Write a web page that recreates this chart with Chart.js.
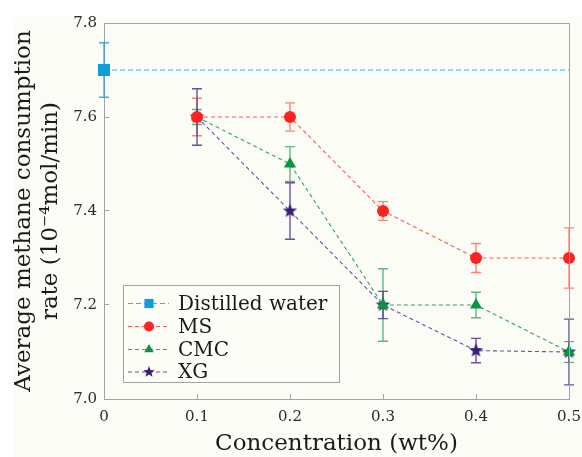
<!DOCTYPE html>
<html>
<head>
<meta charset="utf-8">
<script src="https://cdn.jsdelivr.net/npm/chart.js@4/dist/chart.umd.min.js"></script>
<style>
  html, body { margin: 0; padding: 0; background: #ffffff; }
  #wrap { width: 582px; height: 457px; }
</style>
</head>
<body>
<div id="wrap"><canvas id="c" width="582" height="457"></canvas></div>
<script>
// ---- data ----
const concentrations = [0.1, 0.2, 0.3, 0.4, 0.5];
const waterX = [0, 0.5];
const waterRate = [7.70, 7.70];
const waterErr = [0.058, 0];
const msRate = [7.60, 7.60, 7.40, 7.30, 7.30];
const msErr = [0.040, 0.030, 0.020, 0.031, 0.064];
const cmcRate = [7.60, 7.50, 7.20, 7.20, 7.10];
const cmcErr = [0.016, 0.037, 0.077, 0.027, 0.022];
const xgRate = [7.60, 7.40, 7.20, 7.103, 7.10];
const xgErr = [0.060, 0.060, 0.029, 0.026, 0.070];
const xTickLabels = ['0', '0.1', '0.2', '0.3', '0.4', '0.5'];
const yTickLabels = ['7.0', '7.2', '7.4', '7.6', '7.8'];
const seriesLabels = ['Distilled water', 'MS', 'CMC', 'XG'];

const SERIF = "'DejaVu Serif', serif";

function makeStar(outer, color) {
  const s = Math.ceil(outer * 2 + 2);
  const cv = document.createElement('canvas');
  cv.width = s; cv.height = s;
  const g = cv.getContext('2d');
  const inner = outer * 0.42;
  g.beginPath();
  for (let i = 0; i < 10; i++) {
    const r = i % 2 === 0 ? outer : inner;
    const a = -Math.PI / 2 + i * Math.PI / 5;
    const px = s / 2 + r * Math.cos(a), py = s / 2 + r * Math.sin(a);
    if (i === 0) g.moveTo(px, py); else g.lineTo(px, py);
  }
  g.closePath();
  g.fillStyle = color;
  g.fill();
  return cv;
}
const starBig = makeStar(7.5, '#3a1d78');
const starSmall = makeStar(6, '#3a1d78');

function pts(xs, ys) { return xs.map((x, i) => ({ x: x, y: ys[i] })); }

const datasets = [
  {
    label: seriesLabels[0], data: pts(waterX, waterRate), errors: waterErr,
    borderColor: '#2fb6ee', backgroundColor: '#0f9ddb', errColor: 'rgba(40,160,215,0.85)',
    pointStyle: 'rect', pointRadius: [8.5, 0], legendRadius: 6.5, borderDash: [5, 3]
  },
  {
    label: seriesLabels[1], data: pts(concentrations, msRate), errors: msErr,
    borderColor: '#ff5c4d', backgroundColor: '#ff2222', errColor: 'rgba(255,90,75,0.75)',
    pointStyle: 'circle', pointRadius: 6, legendRadius: 5, borderDash: [4, 3]
  },
  {
    label: seriesLabels[2], data: pts(concentrations, cmcRate), errors: cmcErr,
    borderColor: '#2ea85c', backgroundColor: '#079540', errColor: 'rgba(40,160,90,0.75)',
    pointStyle: 'triangle', pointRadius: 7, legendRadius: 5.5, borderDash: [4, 3]
  },
  {
    label: seriesLabels[3], data: pts(concentrations, xgRate), errors: xgErr,
    borderColor: '#6a52a3', backgroundColor: '#3a1d78', errColor: 'rgba(80,50,140,0.85)',
    pointStyle: starBig, legendStyle: starSmall, pointRadius: 7, legendRadius: 6, borderDash: [4, 3]
  }
];
datasets.forEach(d => {
  d.borderWidth = 1.1;
  d.pointBorderWidth = 0;
  d.pointBorderColor = d.backgroundColor;
  d.pointBackgroundColor = d.backgroundColor;
  d.fill = false;
  d.tension = 0;
  d.clip = false;
  d.pointHoverRadius = d.pointRadius;
});

const bgPlugin = {
  id: 'bg',
  beforeDraw(chart) {
    const ctx = chart.ctx;
    ctx.save();
    ctx.fillStyle = '#ffffff';
    ctx.fillRect(0, 0, chart.width, chart.height);
    ctx.fillStyle = '#fcfcf6';
    ctx.fillRect(13, 17, chart.width - 13, chart.height - 17);
    ctx.restore();
  }
};

const framePlugin = {
  id: 'frame',
  afterDraw(chart) {
    const a = chart.chartArea, ctx = chart.ctx;
    ctx.save();
    ctx.strokeStyle = '#a3a3a3';
    ctx.lineWidth = 1;
    ctx.beginPath();
    ctx.moveTo(Math.round(a.left) + 0.5, Math.round(a.top) + 0.5);
    ctx.lineTo(Math.round(a.right) + 0.5, Math.round(a.top) + 0.5);
    ctx.lineTo(Math.round(a.right) + 0.5, Math.round(a.bottom) + 0.5);
    ctx.stroke();
    ctx.restore();
  }
};

const errorBarPlugin = {
  id: 'errbars',
  beforeDatasetsDraw(chart) {
    const ctx = chart.ctx, xs = chart.scales.x, ys = chart.scales.y;
    ctx.save();
    chart.data.datasets.forEach(ds => {
      ctx.strokeStyle = ds.errColor;
      ctx.lineWidth = 1.4;
      ds.data.forEach((p, i) => {
        const e = ds.errors[i];
        if (!e) return;
        const px = xs.getPixelForValue(p.x);
        const yt = ys.getPixelForValue(p.y + e);
        const yb = ys.getPixelForValue(p.y - e);
        const cap = 5;
        ctx.beginPath();
        ctx.moveTo(px, yt); ctx.lineTo(px, yb);
        ctx.moveTo(px - cap, yt); ctx.lineTo(px + cap, yt);
        ctx.moveTo(px - cap, yb); ctx.lineTo(px + cap, yb);
        ctx.stroke();
      });
    });
    ctx.restore();
  }
};

const legendPlugin = {
  id: 'customLegend',
  afterDraw(chart) {
    const ctx = chart.ctx;
    const box = { x: 123.5, y: 285.5, w: 216, h: 97 };
    ctx.save();
    ctx.fillStyle = '#fdfdf8';
    ctx.fillRect(box.x, box.y, box.w, box.h);
    ctx.strokeStyle = '#a3a3a3';
    ctx.lineWidth = 1;
    ctx.strokeRect(box.x, box.y, box.w, box.h);
    const rowY = [303.5, 326.5, 349.5, 372];
    chart.data.datasets.forEach((ds, i) => {
      const y = rowY[i];
      ctx.strokeStyle = ds.borderColor;
      ctx.lineWidth = 1.1;
      ctx.setLineDash(ds.borderDash);
      ctx.beginPath();
      ctx.moveTo(128, y); ctx.lineTo(169, y);
      ctx.stroke();
      ctx.setLineDash([]);
      ctx.fillStyle = ds.backgroundColor;
      ctx.strokeStyle = ds.backgroundColor;
      Chart.helpers.drawPoint(ctx, {
        pointStyle: ds.legendStyle || ds.pointStyle,
        radius: ds.legendRadius, rotation: 0, borderWidth: 0
      }, 149, y);
      ctx.fillStyle = '#1a1a1a';
      ctx.font = "20px " + SERIF;
      ctx.textBaseline = 'middle';
      ctx.textAlign = 'left';
      ctx.fillText(ds.label, 178, y + 1);
    });
    ctx.restore();
  }
};

new Chart(document.getElementById('c'), {
  type: 'line',
  data: { datasets: datasets },
  plugins: [bgPlugin, errorBarPlugin, framePlugin, legendPlugin],
  options: {
    responsive: false,
    animation: false,
    devicePixelRatio: 1,
    layout: { padding: { left: 0, right: 13, top: 23, bottom: 0 } },
    plugins: { legend: { display: false }, tooltip: { enabled: false } },
    scales: {
      x: {
        type: 'linear', min: 0, max: 0.5,
        afterBuildTicks(s) { s.ticks = xTickLabels.map(t => ({ value: parseFloat(t) })); },
        ticks: {
          callback: (v, i) => xTickLabels[i],
          font: { family: SERIF, size: 15 }, color: '#2a2a2a', padding: 14, maxRotation: 0
        },
        grid: { display: true, drawOnChartArea: false, drawTicks: true, tickLength: -5, color: '#a3a3a3' },
        border: { display: true, color: '#a3a3a3', width: 1 },
        title: {
          display: true, text: 'Concentration (wt%)',
          font: { family: SERIF, size: 23, lineHeight: 1.15 }, color: '#1a1a1a',
          padding: { top: 0, bottom: 0 }
        },
        afterFit(s) { s.height = 58; s.paddingLeft = 0; s.paddingRight = 0; }
      },
      y: {
        type: 'linear', min: 7.0, max: 7.8,
        afterBuildTicks(s) { s.ticks = yTickLabels.map(t => ({ value: parseFloat(t) })); },
        ticks: {
          callback: (v, i) => yTickLabels[i],
          font: { family: SERIF, size: 15 }, color: '#2a2a2a', padding: 12
        },
        grid: { display: true, drawOnChartArea: false, drawTicks: true, tickLength: -5, color: '#a3a3a3' },
        border: { display: true, color: '#a3a3a3', width: 1 },
        title: {
          display: true, text: ['Average methane consumption', 'rate (10\u207B\u2074mol/min)'],
          font: { family: SERIF, size: 23, lineHeight: 1.15 }, color: '#1a1a1a',
          padding: { top: 11, bottom: 0 }
        },
        afterFit(s) { s.width = 104; s.paddingTop = 0; s.paddingBottom = 0; }
      }
    }
  }
});
</script>
</body>
</html>
